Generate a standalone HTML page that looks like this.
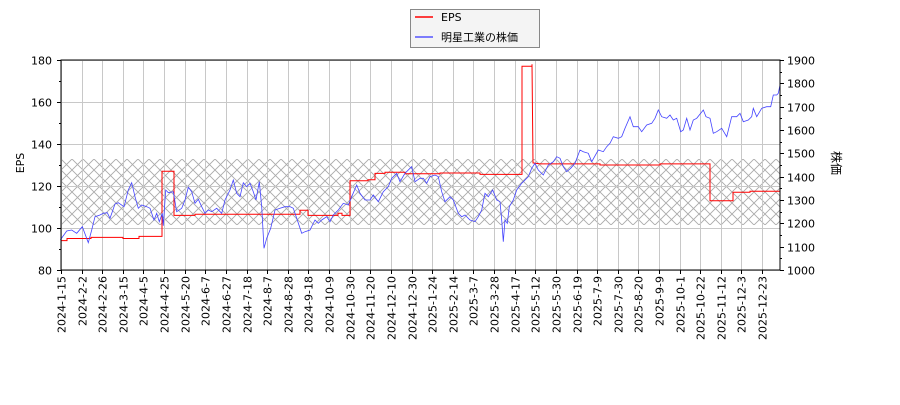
<!DOCTYPE html>
<html><head><meta charset="utf-8"><style>
body{margin:0;background:#fff}
svg text{font-family:"DejaVu Sans","Liberation Sans","Noto Sans CJK JP",sans-serif;font-size:11px;fill:#000}
</style></head><body>
<svg id="s" width="900" height="400" xmlns="http://www.w3.org/2000/svg">
<defs>
<pattern id="h" x="61" y="159" width="11" height="11" patternUnits="userSpaceOnUse">
<path d="M0,0L11,11M11,0L0,11" stroke="#aaa" stroke-width="0.9"/>
</pattern>
</defs>
<rect x="61" y="159" width="719" height="66" fill="url(#h)"/>
<g id="grid" stroke="#c8c8c8" stroke-width="1"></g>
<g id="lines"></g>
<rect x="61" y="60" width="719" height="210" fill="none" stroke="#000" stroke-width="1"/>
<g id="ticks" stroke="#000" stroke-width="1"></g>
<g id="labels"></g>
<text transform="translate(24,163) rotate(-90)" text-anchor="middle">EPS</text>
<text transform="translate(832,163) rotate(90)" text-anchor="middle" style="font-size:12px">株価</text>
<rect x="410.5" y="9.5" width="129" height="38" fill="#f4f4f4" stroke="#888"/>
<line x1="415" y1="17" x2="433" y2="17" stroke="red" stroke-width="1.5"/>
<text x="441" y="21">EPS</text>
<line x1="415" y1="37" x2="433" y2="37" stroke="#55f" stroke-width="1.5"/>
<text x="441" y="41">明星工業の株価</text>
</svg>
<script>
var NS="http://www.w3.org/2000/svg";
function el(p,t,a,txt){var e=document.createElementNS(NS,t);for(var k in a)e.setAttribute(k,a[k]);if(txt)e.textContent=txt;document.getElementById(p).appendChild(e);return e;}
var dates=["2024-1-15","2024-2-2","2024-2-26","2024-3-15","2024-4-5","2024-4-25","2024-5-20","2024-6-7","2024-6-27","2024-7-18","2024-8-7","2024-8-28","2024-9-18","2024-10-9","2024-10-30","2024-11-20","2024-12-10","2024-12-30","2025-1-24","2025-2-14","2025-3-7","2025-3-28","2025-4-17","2025-5-12","2025-5-30","2025-6-19","2025-7-9","2025-7-30","2025-8-20","2025-9-9","2025-10-1","2025-10-22","2025-11-12","2025-12-3","2025-12-23"];
dates.forEach(function(d,i){var x=61+i*20.62;x=Math.round(x)+0.5;
el("grid","line",{x1:x,y1:60,x2:x,y2:270});
el("ticks","line",{x1:x,y1:270,x2:x,y2:274});
el("labels","text",{transform:"translate("+(x+4)+",276) rotate(-90)","text-anchor":"end"},d);});
for(var v=80;v<=180;v+=10){var y=Math.round(270-(v-80)*2.1)+0.5;
if(v%20==0){el("grid","line",{x1:61,y1:y,x2:780,y2:y});el("labels","text",{x:52,y:y+4,"text-anchor":"end"},v);el("ticks","line",{x1:57,y1:y,x2:61,y2:y});}
else el("ticks","line",{x1:59,y1:y,x2:61,y2:y});}
for(var p=1000;p<=1900;p+=50){var y=Math.round(270-(p-1000)*210/900)+0.5;
if(p%100==0){el("ticks","line",{x1:780,y1:y,x2:784,y2:y});el("labels","text",{x:787,y:y+4},p);}
else el("ticks","line",{x1:780,y1:y,x2:782,y2:y});}
function ey(v){return 270-(v-80)*2.1}
var eps=[[61,94],[67,94],[67,95],[91,95],[91,95.5],[123,95.5],[123,95],[139,95],[139,96],[162,96],[162,127],[174,127],[174,106],[195,106],[195,106.5],[300,106.5],[300,108.5],[308,108.5],[308,106],[338,106],[338,107],[342,107],[342,106],[350,106],[350,122.5],[368,122.5],[368,123],[375,123],[375,126],[385,126],[385,126.5],[405,126.5],[405,125.8],[440,125.8],[440,126.2],[480,126.2],[480,125.5],[522,125.5],[522,177],[532,177],[532,178],[533,131],[540,130.5],[600,130.5],[600,130],[660,130],[660,130.5],[710,130.5],[710,113],[733,113],[733,117],[750,117],[750,117.5],[780,117.5]];
el("lines","polyline",{points:eps.map(function(a){return a[0]+","+ey(a[1]).toFixed(1)}).join(" "),fill:"none",stroke:"red","stroke-width":1});
var z1=[181,720,200,693,215,690,230,700,247,680,265,728,275,690,285,650,300,645,310,640,322,638,330,655,345,612,355,608,372,620,385,570,395,548,405,590,415,625,425,615,440,620,450,625,462,660,470,640,478,665,487,640,490,677,497,570,505,578,520,575,530,635,545,625,555,600,565,562,575,575,585,610,595,598,605,620,615,640,625,630,635,635,650,625,665,640,675,600,690,570,700,540,710,580,720,590,730,548,740,560,750,550,760,575,768,600,778,545,785,620,792,745,800,715,812,685,825,630,840,625,855,620,870,620,880,625,890,655,905,700,915,695,930,690,945,660,955,670,965,660,980,650,990,665,1000,645,1015,630,1030,610,1045,615,1055,590,1070,555,1080,580,1095,600,1110,600,1120,585,1135,605,1150,575,1165,560,1175,535,1190,520,1200,545,1215,520,1230,505,1235,500,1245,545,1260,535,1270,535,1280,550,1290,530,1305,525,1315,530,1325,575,1335,605,1350,590];
var z2=[10,600,25,640,35,650,45,645,60,660,75,665,85,650,95,630,105,580,115,590,128,570,140,600,150,605,155,660,160,725,165,660,172,670,178,620,190,600,200,570,215,550,235,530,245,505,255,490,265,510,280,525,295,495,310,485,320,470,330,475,340,500,350,515,362,505,375,490,390,450,400,455,415,460,425,485,445,450,460,455,470,440,480,430,490,410,505,415,515,410,525,385,540,350,550,380,565,380,575,395,590,375,605,370,615,355,625,330,635,350,650,355,660,345,670,360,680,355,692,395,700,390,710,355,720,390,730,360,740,355,752,340,760,330,768,350,780,355,790,400,800,395,815,385,830,410,845,350,860,350,870,340,880,365,895,360,905,350,910,325,920,350,935,325,950,320,962,320,970,285,980,285,985,280,990,255];
var pts=[];for(var i=0;i<z1.length;i+=2)pts.push((z1[i]/3).toFixed(1)+","+(z1[i+1]/3).toFixed(1));
for(var i=0;i<z2.length;i+=2)pts.push((450+z2[i]/3).toFixed(1)+","+(z2[i+1]/3).toFixed(1));
el("lines","polyline",{points:pts.join(" "),fill:"none",stroke:"#44f","stroke-width":0.8});
</script>
</body></html>
